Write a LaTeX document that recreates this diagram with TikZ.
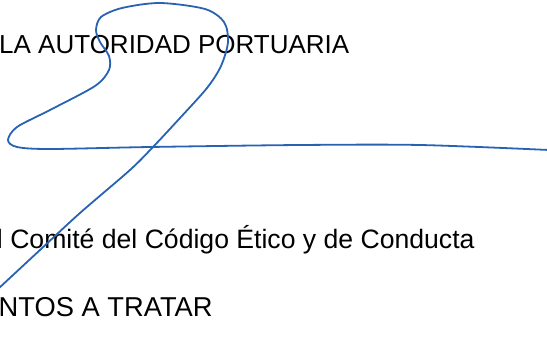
\documentclass[tikz,border=0pt]{standalone}
\usepackage{fontspec}
\setmainfont{Liberation Sans}
\definecolor{ink}{RGB}{40,98,178}
\begin{document}
\begin{tikzpicture}[x=1pt,y=-1pt,
  txt/.style={anchor=base west,inner sep=0pt,font=\fontsize{26.6}{30}\selectfont},
  sig/.style={draw=ink,line width=1.8pt,line cap=round,line join=round}]
\useasboundingbox (0,0) rectangle (547,337);
\node[txt,font=\fontsize{26}{30}\selectfont] (t1) at (-1,53.5) {LA AUTORIDAD PORTUARIA};
\node[txt] (t2) at (-3.2,248) {l Comité del Código Ético y de Conducta};
\node[txt,font=\fontsize{27.3}{30}\selectfont] (t3) at (-1.5,316) {NTOS A TRATAR};
\draw[sig] plot[smooth,tension=0.5] coordinates {
  (-2,289) (40,250) (80,213) (130,170) (153,147) (180,118) (207,88) (221,66)
  (228,42) (224,22) (205,9) (160,3) (122,8) (101,17) (96,30) (100,42)
  (109,56) (109,70) (95,86) (50,110) (17,127) (8,140) (17,147) (50,149)
  (150,147) (300,145) (420,145) (549,150)};
\end{tikzpicture}
\end{document}
